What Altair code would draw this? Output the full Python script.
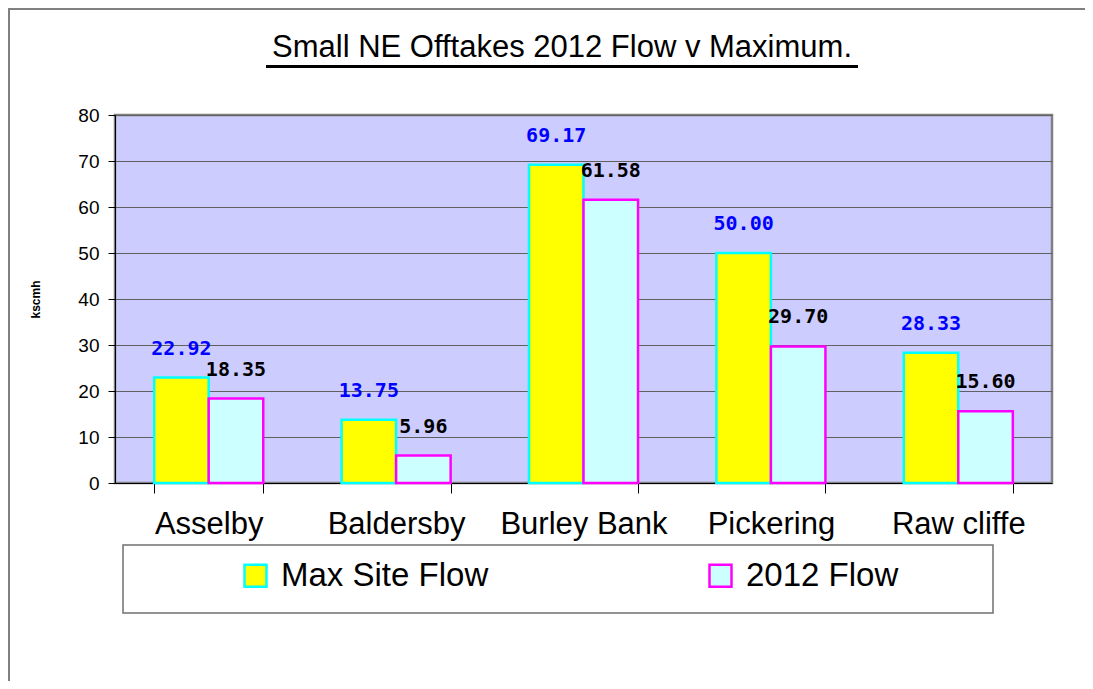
import altair as alt
import pandas as pd

sites = ["Asselby", "Baldersby", "Burley Bank", "Pickering", "Raw cliffe"]
max_site_flow = [22.92, 13.75, 69.17, 50.00, 28.33]
flow_2012 = [18.35, 5.96, 61.58, 29.70, 15.60]
series_names = ["Max Site Flow", "2012 Flow"]
title_text = "Small NE Offtakes 2012 Flow  v Maximum."
y_title = "kscmh"
y_ticks = [0, 10, 20, 30, 40, 50, 60, 70, 80]

rows = []
for s, m, f in zip(sites, max_site_flow, flow_2012):
    rows.append({"site": s, "series": series_names[0], "value": m})
    rows.append({"site": s, "series": series_names[1], "value": f})
df = pd.DataFrame(rows)
one = pd.DataFrame({"label": [title_text]})

W, H = 937, 368
FONT = "Liberation Sans"

x = alt.X("site:N", sort=sites, title=None,
          scale=alt.Scale(paddingInner=0.418, paddingOuter=0.209),
          axis=alt.Axis(labelAngle=0, labelFont=FONT, labelFontSize=31,
                        labelColor="#000000", labelPadding=16, tickBand="extent",
                        tickSize=10, tickColor="#000000", domainColor="#000000",
                        labelLimit=400, grid=False))
xo = alt.XOffset("series:N", scale=alt.Scale(domain=series_names, paddingInner=0, paddingOuter=0))
y = alt.Y("value:Q", scale=alt.Scale(domain=[0, 80]),
          axis=alt.Axis(values=y_ticks, title=y_title, titleFont=FONT, titleFontSize=12,
                        titleFontWeight="bold", titleColor="#000000", titleX=-80, titleY=H / 2,
                        titleAngle=270, titleAlign="center", titleBaseline="middle",
                        labelFont=FONT, labelFontSize=19, labelColor="#000000",
                        labelPadding=9, tickSize=7, tickColor="#000000",
                        domainColor="#000000", grid=True, gridColor="#606060",
                        gridWidth=1.2))

legend = alt.Legend(title=None, orient="none", legendX=124, legendY=444,
                    direction="horizontal", columns=2, columnPadding=215,
                    symbolType="square", symbolSize=484, symbolStrokeWidth=2.5,
                    labelFont=FONT, labelFontSize=33, labelColor="#000000",
                    labelOffset=9, labelLimit=500, padding=0, rowPadding=0)

bars = alt.Chart(df).mark_bar(strokeWidth=2.5).encode(
    x=x, xOffset=xo, y=y,
    fill=alt.Fill("series:N", scale=alt.Scale(domain=series_names, range=["#ffff00", "#ccffff"]), legend=legend),
    stroke=alt.Stroke("series:N", scale=alt.Scale(domain=series_names, range=["#00ffff", "#ff00ff"]), legend=legend),
)

label_font = "DejaVu Sans Mono"
lab_max = alt.Chart(df).transform_filter(alt.datum.series == series_names[0]).mark_text(
    font=label_font, fontSize=20, fontWeight="bold", color="#0000ff", baseline="middle", dy=-29
).encode(x=alt.X("site:N", sort=sites), xOffset=xo, y="value:Q", text=alt.Text("value:Q", format=".2f"))
lab_2012 = alt.Chart(df).transform_filter(alt.datum.series == series_names[1]).mark_text(
    font=label_font, fontSize=20, fontWeight="bold", color="#000000", baseline="middle", dy=-29
).encode(x=alt.X("site:N", sort=sites), xOffset=xo, y="value:Q", text=alt.Text("value:Q", format=".2f"))

title_mark = alt.Chart(one).mark_text(font=FONT, fontSize=31, color="#000000", align="center",
                                      baseline="alphabetic").encode(
    x=alt.value(447), y=alt.value(-58), text="label:N")
legend_box = alt.Chart(one).mark_rect(filled=False, stroke="#707070", strokeWidth=1.5).encode(
    x=alt.value(8), x2=alt.value(878), y=alt.value(430), y2=alt.value(498))
underline = alt.Chart(one).mark_rect(fill="#000000").encode(
    x=alt.value(151), x2=alt.value(743), y=alt.value(-50), y2=alt.value(-47))
frame = alt.Chart(one).mark_rect(filled=False, stroke="#808080", strokeWidth=2).encode(
    x=alt.value(-106), x2=alt.value(1000), y=alt.value(-106), y2=alt.value(700))

chart = alt.layer(frame, bars, lab_max, lab_2012, title_mark, legend_box, underline).properties(
    width=W, height=H,
    padding={"left": 107, "top": 107, "right": 33, "bottom": 198},
    autosize=alt.AutoSizeParams(type="none"),
    background="#ffffff",
).configure_view(fill="#ccccff", stroke="#808080", strokeWidth=2.5)

chart.save("out.html", embed_options={"renderer": "svg", "actions": False})
